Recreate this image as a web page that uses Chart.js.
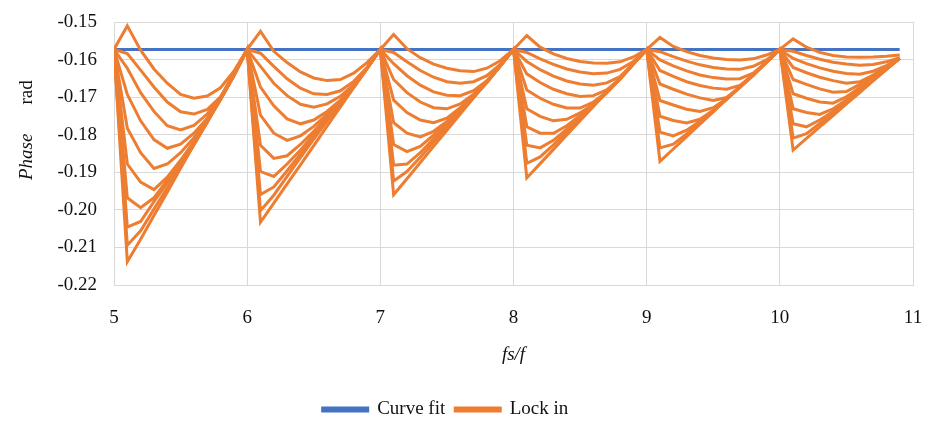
<!DOCTYPE html>
<html>
<head>
<meta charset="utf-8">
<title>Phase vs fs/f</title>
<script src="https://cdn.jsdelivr.net/npm/chart.js@4.4.1/dist/chart.umd.min.js"></script>
<style>
	html, body { margin: 0; padding: 0; background: #ffffff; }
	#wrap { width: 927px; height: 422px; position: relative; }
</style>
</head>
<body>
<div id="wrap"><canvas id="chart" width="927" height="422"></canvas></div>
<script>

/*
 * Sample ratio fs/f, one point every 0.1.
 */
const fsRatio = [
	5.0, 5.1, 5.2, 5.3, 5.4, 5.5, 5.6, 5.7, 5.8, 5.9,
	6.0, 6.1, 6.2, 6.3, 6.4, 6.5, 6.6, 6.7, 6.8, 6.9,
	7.0, 7.1, 7.2, 7.3, 7.4, 7.5, 7.6, 7.7, 7.8, 7.9,
	8.0, 8.1, 8.2, 8.3, 8.4, 8.5, 8.6, 8.7, 8.8, 8.9,
	9.0, 9.1, 9.2, 9.3, 9.4, 9.5, 9.6, 9.7, 9.8, 9.9,
	10.0, 10.1, 10.2, 10.3, 10.4, 10.5, 10.6, 10.7, 10.8, 10.9
];

/*
 * Curve fit phase (rad).
 */
const curveFit = [
	-0.1573, -0.1573, -0.1573, -0.1573, -0.1573, -0.1573, -0.1573, -0.1573, -0.1573, -0.1573,
	-0.1573, -0.1573, -0.1573, -0.1573, -0.1573, -0.1573, -0.1573, -0.1573, -0.1573, -0.1573,
	-0.1573, -0.1573, -0.1573, -0.1573, -0.1573, -0.1573, -0.1573, -0.1573, -0.1573, -0.1573,
	-0.1573, -0.1573, -0.1573, -0.1573, -0.1573, -0.1573, -0.1573, -0.1573, -0.1573, -0.1573,
	-0.1573, -0.1573, -0.1573, -0.1573, -0.1573, -0.1573, -0.1573, -0.1573, -0.1573, -0.1573,
	-0.1573, -0.1573, -0.1573, -0.1573, -0.1573, -0.1573, -0.1573, -0.1573, -0.1573, -0.1573
];

/*
 * Lock in phase (rad), one run per array.
 */
const lockIn1 = [
	-0.1573, -0.1510, -0.1575, -0.1625, -0.1663, -0.1693, -0.1703, -0.1697, -0.1675, -0.1631,
	-0.1573, -0.1525, -0.1578, -0.1608, -0.1633, -0.1649, -0.1656, -0.1653, -0.1636, -0.1608,
	-0.1573, -0.1533, -0.1571, -0.1595, -0.1612, -0.1623, -0.1630, -0.1632, -0.1623, -0.1603,
	-0.1573, -0.1536, -0.1567, -0.1585, -0.1597, -0.1605, -0.1609, -0.1610, -0.1606, -0.1593,
	-0.1573, -0.1541, -0.1565, -0.1579, -0.1589, -0.1596, -0.1600, -0.1601, -0.1598, -0.1588,
	-0.1573, -0.1545, -0.1567, -0.1581, -0.1589, -0.1593, -0.1594, -0.1593, -0.1591, -0.1588
];
const lockIn2 = [
	-0.1573, -0.1584, -0.1628, -0.1673, -0.1713, -0.1739, -0.1745, -0.1733, -0.1699, -0.1641,
	-0.1573, -0.1583, -0.1618, -0.1651, -0.1676, -0.1691, -0.1693, -0.1683, -0.1658, -0.1621,
	-0.1573, -0.1581, -0.1606, -0.1629, -0.1647, -0.1659, -0.1663, -0.1659, -0.1643, -0.1613,
	-0.1573, -0.1581, -0.1598, -0.1613, -0.1625, -0.1633, -0.1638, -0.1636, -0.1626, -0.1605,
	-0.1573, -0.1579, -0.1592, -0.1604, -0.1614, -0.1621, -0.1625, -0.1626, -0.1618, -0.1601,
	-0.1573, -0.1578, -0.1589, -0.1599, -0.1607, -0.1612, -0.1615, -0.1613, -0.1606, -0.1595
];
const lockIn3 = [
	-0.1573, -0.1623, -0.1688, -0.1738, -0.1776, -0.1787, -0.1775, -0.1745, -0.1701, -0.1643,
	-0.1573, -0.1618, -0.1663, -0.1696, -0.1719, -0.1727, -0.1718, -0.1698, -0.1666, -0.1623,
	-0.1573, -0.1611, -0.1643, -0.1668, -0.1686, -0.1695, -0.1696, -0.1683, -0.1656, -0.1617,
	-0.1573, -0.1605, -0.1627, -0.1644, -0.1657, -0.1665, -0.1668, -0.1662, -0.1645, -0.1611,
	-0.1573, -0.1601, -0.1617, -0.1630, -0.1641, -0.1648, -0.1652, -0.1651, -0.1636, -0.1607,
	-0.1573, -0.1597, -0.1611, -0.1622, -0.1631, -0.1637, -0.1639, -0.1631, -0.1616, -0.1596
];
const lockIn4 = [
	-0.1573, -0.1693, -0.1763, -0.1813, -0.1836, -0.1825, -0.1796, -0.1756, -0.1705, -0.1643,
	-0.1573, -0.1673, -0.1723, -0.1758, -0.1771, -0.1761, -0.1738, -0.1708, -0.1671, -0.1624,
	-0.1573, -0.1653, -0.1688, -0.1713, -0.1728, -0.1731, -0.1718, -0.1692, -0.1659, -0.1617,
	-0.1573, -0.1638, -0.1661, -0.1679, -0.1691, -0.1698, -0.1696, -0.1681, -0.1651, -0.1612,
	-0.1573, -0.1629, -0.1645, -0.1659, -0.1669, -0.1676, -0.1679, -0.1669, -0.1641, -0.1607,
	-0.1573, -0.1621, -0.1635, -0.1647, -0.1656, -0.1663, -0.1659, -0.1641, -0.1619, -0.1596
];
const lockIn5 = [
	-0.1573, -0.1783, -0.1848, -0.1890, -0.1878, -0.1848, -0.1808, -0.1761, -0.1706, -0.1643,
	-0.1573, -0.1748, -0.1796, -0.1815, -0.1803, -0.1778, -0.1746, -0.1711, -0.1673, -0.1624,
	-0.1573, -0.1708, -0.1741, -0.1761, -0.1768, -0.1756, -0.1728, -0.1697, -0.1661, -0.1617,
	-0.1573, -0.1681, -0.1703, -0.1719, -0.1729, -0.1729, -0.1713, -0.1686, -0.1652, -0.1612,
	-0.1573, -0.1665, -0.1679, -0.1692, -0.1702, -0.1709, -0.1701, -0.1673, -0.1642, -0.1607,
	-0.1573, -0.1653, -0.1666, -0.1678, -0.1687, -0.1685, -0.1666, -0.1645, -0.1621, -0.1596
];
const lockIn6 = [
	-0.1573, -0.1878, -0.1926, -0.1946, -0.1913, -0.1868, -0.1818, -0.1765, -0.1706, -0.1643,
	-0.1573, -0.1828, -0.1863, -0.1856, -0.1826, -0.1791, -0.1753, -0.1713, -0.1673, -0.1624,
	-0.1573, -0.1768, -0.1796, -0.1806, -0.1791, -0.1765, -0.1733, -0.1699, -0.1661, -0.1617,
	-0.1573, -0.1731, -0.1751, -0.1763, -0.1759, -0.1742, -0.1718, -0.1688, -0.1652, -0.1612,
	-0.1573, -0.1709, -0.1721, -0.1732, -0.1738, -0.1728, -0.1704, -0.1674, -0.1642, -0.1607,
	-0.1573, -0.1691, -0.1703, -0.1713, -0.1716, -0.1699, -0.1674, -0.1649, -0.1623, -0.1597
];
const lockIn7 = [
	-0.1573, -0.1968, -0.1994, -0.1968, -0.1921, -0.1873, -0.1823, -0.1766, -0.1706, -0.1642,
	-0.1573, -0.1898, -0.1911, -0.1878, -0.1841, -0.1799, -0.1757, -0.1715, -0.1673, -0.1623,
	-0.1573, -0.1826, -0.1845, -0.1831, -0.1801, -0.1769, -0.1736, -0.1700, -0.1660, -0.1617,
	-0.1573, -0.1779, -0.1796, -0.1796, -0.1776, -0.1749, -0.1721, -0.1688, -0.1651, -0.1612,
	-0.1573, -0.1751, -0.1762, -0.1769, -0.1759, -0.1735, -0.1706, -0.1674, -0.1641, -0.1607,
	-0.1573, -0.1731, -0.1741, -0.1746, -0.1731, -0.1707, -0.1680, -0.1652, -0.1624, -0.1597
];
const lockIn8 = [
	-0.1573, -0.2046, -0.2031, -0.1978, -0.1928, -0.1878, -0.1825, -0.1767, -0.1705, -0.1641,
	-0.1573, -0.1959, -0.1939, -0.1896, -0.1851, -0.1806, -0.1761, -0.1717, -0.1673, -0.1623,
	-0.1573, -0.1881, -0.1878, -0.1848, -0.1811, -0.1776, -0.1739, -0.1701, -0.1660, -0.1617,
	-0.1573, -0.1828, -0.1835, -0.1815, -0.1785, -0.1752, -0.1722, -0.1688, -0.1650, -0.1611,
	-0.1573, -0.1793, -0.1803, -0.1788, -0.1764, -0.1737, -0.1706, -0.1673, -0.1640, -0.1607,
	-0.1573, -0.1771, -0.1779, -0.1761, -0.1738, -0.1711, -0.1683, -0.1654, -0.1625, -0.1597
];
const lockIn9 = [
	-0.1573, -0.2094, -0.2056, -0.1998, -0.1941, -0.1885, -0.1827, -0.1767, -0.1703, -0.1639,
	-0.1573, -0.2002, -0.1961, -0.1911, -0.1861, -0.1812, -0.1764, -0.1718, -0.1672, -0.1623,
	-0.1573, -0.1923, -0.1898, -0.1860, -0.1820, -0.1781, -0.1741, -0.1701, -0.1659, -0.1616,
	-0.1573, -0.1876, -0.1859, -0.1827, -0.1792, -0.1756, -0.1723, -0.1687, -0.1650, -0.1611,
	-0.1573, -0.1835, -0.1825, -0.1798, -0.1768, -0.1738, -0.1705, -0.1673, -0.1640, -0.1606,
	-0.1573, -0.1809, -0.1797, -0.1770, -0.1743, -0.1714, -0.1685, -0.1655, -0.1626, -0.1597
];
const lockIn10 = [
	-0.1573, -0.2138, -0.2078, -0.2015, -0.1953, -0.1889, -0.1826, -0.1763, -0.1700, -0.1636,
	-0.1573, -0.2033, -0.1982, -0.1931, -0.1880, -0.1829, -0.1777, -0.1726, -0.1675, -0.1624,
	-0.1573, -0.1960, -0.1917, -0.1874, -0.1831, -0.1788, -0.1745, -0.1702, -0.1659, -0.1616,
	-0.1573, -0.1915, -0.1877, -0.1839, -0.1801, -0.1763, -0.1725, -0.1687, -0.1649, -0.1611,
	-0.1573, -0.1871, -0.1838, -0.1805, -0.1772, -0.1739, -0.1705, -0.1672, -0.1639, -0.1606,
	-0.1573, -0.1841, -0.1810, -0.1779, -0.1749, -0.1718, -0.1688, -0.1657, -0.1627, -0.1597
];

/*
 * Axis ticks.
 */
const xTicks = [ 5, 6, 7, 8, 9, 10, 11 ];
const yTicks = [ -0.22, -0.21, -0.20, -0.19, -0.18, -0.17, -0.16, -0.15 ];

const BLUE = "#4472C4";
const ORANGE = "#ED7D31";
const GRID = "#d9d9d9";
const INK = "#111";
const SERIF = "'Liberation Serif', 'Times New Roman', serif";

// Pair x values with series values.
const points = values => values.map( ( v, i ) => ({ x: fsRatio[i], y: v }) );

const lockInRuns = [ lockIn1, lockIn2, lockIn3, lockIn4, lockIn5, lockIn6, lockIn7, lockIn8, lockIn9, lockIn10 ];

const datasets = [{
	label: "Curve fit",
	data: points( curveFit ),
	borderColor: BLUE,
	backgroundColor: BLUE,
	borderWidth: 3,
	order: 1
}];
lockInRuns.forEach( ( run, i ) => datasets.push({
	label: i === 0 ? "Lock in" : "",
	data: points( run ),
	borderColor: ORANGE,
	backgroundColor: ORANGE,
	borderWidth: 3,
	order: 0
}));

/*
 * Y axis title: "Phase" in italics, then "rad".
 * Also nudges the legend a little to the left, like the original.
 */
const extras = {
	id: "extras",
	afterLayout: function( chart )
	{
		chart.legend.left -= 11;
		chart.legend.right -= 11;
	},
	afterDraw: function( chart )
	{
		const ctx = chart.ctx;
		ctx.save();
		ctx.translate( 27, 180 );
		ctx.rotate( -Math.PI / 2 );
		ctx.fillStyle = INK;
		ctx.textBaseline = "middle";
		ctx.textAlign = "left";
		ctx.font = "italic 19px " + SERIF;
		ctx.fillText( "Phase", 0, 0 );
		const w = ctx.measureText( "Phase" ).width;
		ctx.font = "19px " + SERIF;
		ctx.fillText( "rad", w + 29, 0 );
		ctx.restore();
	}
};

new Chart( document.getElementById( "chart" ), {
	type: "line",
	data: { datasets: datasets },
	plugins: [ extras ],
	options: {
		responsive: false,
		animation: false,
		layout: {
			padding: { top: 22, right: 14, left: 0, bottom: -7 }
		},
		elements: {
			point: { radius: 0 },
			line: { tension: 0 }
		},
		plugins: {
			tooltip: { enabled: false },
			legend: {
				position: "bottom",
				labels: {
					color: INK,
					font: { family: SERIF, size: 19 },
					boxWidth: 45,
					boxHeight: 3,
					padding: 10,
					sort: ( a, b ) => a.datasetIndex - b.datasetIndex,
					filter: item => item.text !== ""
				}
			}
		},
		scales: {
			x: {
				type: "linear",
				min: 5,
				max: 11,
				afterBuildTicks: scale => { scale.ticks = xTicks.map( v => ({ value: v }) ); },
				afterFit: scale => {
					scale.height = 105;
					scale.paddingLeft = 0;
					scale.paddingRight = 0;
				},
				grid: { color: GRID, drawTicks: false },
				border: { color: GRID },
				ticks: {
					padding: 22,
					color: INK,
					font: { family: SERIF, size: 19 },
					callback: v => String( v )
				},
				title: {
					display: true,
					text: "fs/f",
					color: INK,
					font: { family: SERIF, size: 19, style: "italic" },
					padding: { top: 4, bottom: 24 }
				}
			},
			y: {
				min: -0.22,
				max: -0.15,
				afterBuildTicks: scale => { scale.ticks = yTicks.map( v => ({ value: v }) ); },
				afterFit: scale => {
					scale.width = 114;
					scale.paddingTop = 0;
					scale.paddingBottom = 0;
				},
				grid: { color: GRID, drawTicks: false },
				border: { color: GRID },
				ticks: {
					padding: 17,
					color: INK,
					font: { family: SERIF, size: 19 },
					callback: v => v.toFixed( 2 )
				}
			}
		}
	}
});
</script>
</body>
</html>
